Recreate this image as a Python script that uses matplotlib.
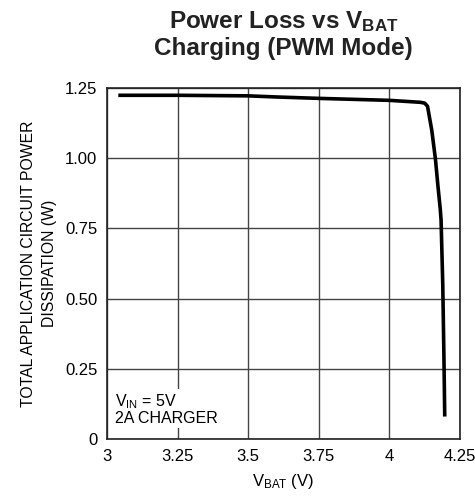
import matplotlib
matplotlib.use("Agg")
import matplotlib.pyplot as plt

plt.rcParams['font.family'] = ['Liberation Sans', 'DejaVu Sans']
plt.rcParams['mathtext.default'] = 'regular'

# curve
v_bat = [3.04, 3.25, 3.5, 3.6, 3.75, 4.0, 4.11, 4.125, 4.135, 4.15, 4.163, 4.172, 4.18, 4.183, 4.189, 4.193, 4.196]
power = [1.224, 1.224, 1.222, 1.218, 1.213, 1.206, 1.199, 1.196, 1.185, 1.10, 0.997, 0.90, 0.82, 0.78, 0.55, 0.30, 0.08]

x_ticks = [3, 3.25, 3.5, 3.75, 4, 4.25]
x_tick_labels = ['3', '3.25', '3.5', '3.75', '4', '4.25']
y_ticks = [0, 0.25, 0.5, 0.75, 1.0, 1.25]
y_tick_labels = ['0', '0.25', '0.50', '0.75', '1.00', '1.25']

fig = plt.figure(figsize=(4.75, 4.96), dpi=100)
ax = fig.add_axes([0.2253, 0.1149, 0.7431, 0.7077])

ax.plot(v_bat, power, color='black', lw=2.6, solid_capstyle='butt', zorder=3)

ax.set_xlim(3, 4.25)
ax.set_ylim(0, 1.25)
ax.set_xticks(x_ticks)
ax.set_xticklabels(x_tick_labels)
ax.set_yticks(y_ticks)
ax.set_yticklabels(y_tick_labels)
ax.tick_params(length=0, labelsize=12, pad=7)
ax.grid(True, color='#444444', lw=1.0)
for s in ax.spines.values():
    s.set_linewidth(1.2)
    s.set_color('#222222')

ax.text(3.03, 0.045, 'V$_{IN}$ = 5V\n2A CHARGER', fontsize=11.5, ha='left', va='bottom',
        linespacing=1.05, zorder=4,
        bbox=dict(facecolor='white', edgecolor='none', pad=1))

ax.set_ylabel('TOTAL APPLICATION CIRCUIT POWER\nDISSIPATION (W)', fontsize=11.3, labelpad=6,
              linespacing=1.45)
ax.set_xlabel('V$_{BAT}$ (V)', fontsize=12, labelpad=6)

fig.text(0.597, 1 - 9 / 496, 'Power Loss vs V$_{BAT}$\nCharging (PWM Mode)', fontsize=17.5,
         fontweight='bold', ha='center', va='top', linespacing=1.15, color='#222222')

fig.savefig('out.png', dpi=100)
